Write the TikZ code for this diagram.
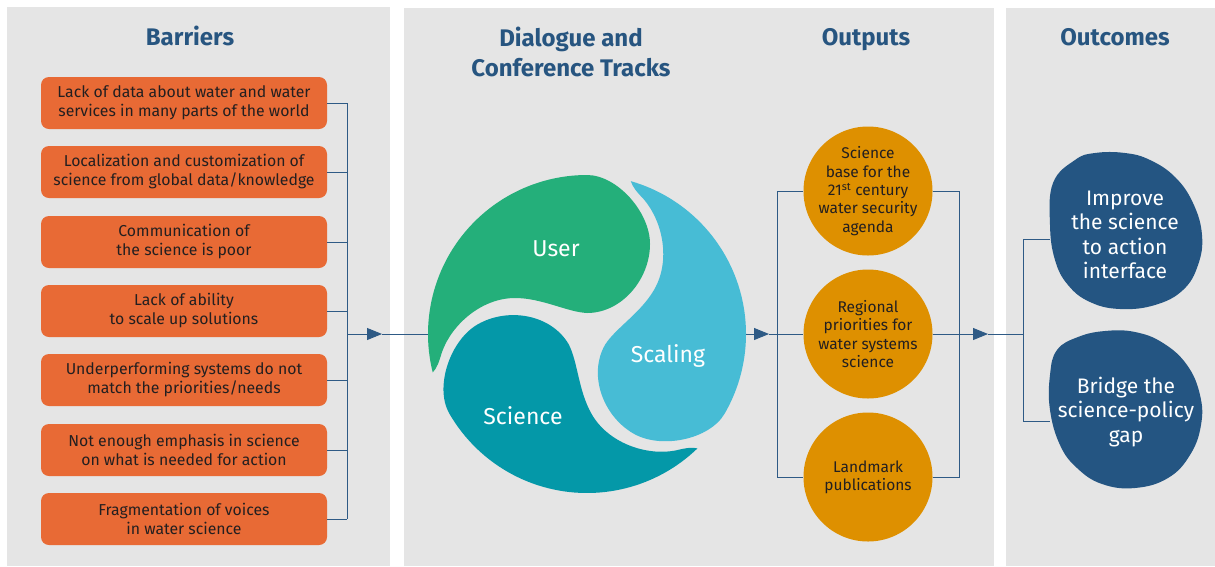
\documentclass[tikz,border=0pt]{standalone}
\usepackage{fontspec}
\setmainfont{Fira Sans}
\usetikzlibrary{arrows.meta}
\definecolor{panel}{HTML}{E5E5E5}
\definecolor{barorange}{HTML}{E86A35}
\definecolor{headblue}{HTML}{275580}
\definecolor{lineblue}{HTML}{2E5A85}
\definecolor{outgold}{HTML}{DE9000}
\definecolor{outcblue}{HTML}{245582}
\definecolor{cuser}{HTML}{24AF7A}
\definecolor{cscience}{HTML}{0498A8}
\definecolor{cscaling}{HTML}{47BCD5}
\definecolor{txtdark}{HTML}{231F20}
\tikzset{
  head/.style={text=headblue, font=\fontsize{24}{30}\selectfont\bfseries, align=center, inner sep=0},
  barbox/.style={fill=barorange, rounded corners=8pt, minimum width=286pt, minimum height=52pt,
    align=center, text=txtdark, font=\fontsize{15.8}{19}\selectfont, inner sep=0},
  outcirc/.style={circle, fill=outgold, minimum size=129pt, inner sep=-12pt, align=center,
    text=txtdark, font=\fontsize{15.5}{18.3}\selectfont},
  outctext/.style={text=white, align=center, font=\fontsize{21}{24.5}\selectfont, inner sep=0},
  tritext/.style={text=white, font=\fontsize{23}{26}\selectfont, inner sep=0},
  conn/.style={draw=lineblue, line width=0.9pt},
  tip/.style={-{Triangle[length=15pt,width=12pt]}},
  tomoe/.pic={\fill[pic actions] (194:159) arc[start angle=194, end angle=90, radius=159]
     .. controls (30,159) and (63,122) .. (63,90)
     .. controls (63,55) and (35,21) .. (0,21)
     .. controls (-20,22) and (-45,36) .. (-72,36)
     .. controls (-105,36) and (-135,10) .. (-145,-18)
     .. controls (-148,-28) and (-150,-34) .. cycle;}
}
\begin{document}
\begin{tikzpicture}[x=1pt,y=-1pt]
\useasboundingbox (0,0) rectangle (1215,566);
\fill[white] (0,0) rectangle (1215,566);
% panels
\fill[panel] (7,7) rectangle (390,566);
\fill[panel] (404,8) rectangle (994,566);
\fill[panel] (1006,8) rectangle (1215,566);
% headings
\node[head, anchor=base] (hbar) at (190,45) {Barriers};
\node[head] (hdia) at (571,52) {Dialogue and\\Conference Tracks};
\node[head, anchor=base] (hout) at (866,45) {Outputs};
\node[head, anchor=base] (hoc) at (1115,45) {Outcomes};
% barriers
\node[barbox] (b1) at (184,103) {Lack of data about water and water\\services in many parts of the world};
\node[barbox] (b2) at (184,172) {Localization and customization of\\science from global data/knowledge};
\node[barbox] (b3) at (184,242) {Communication of\\the science is poor};
\node[barbox] (b4) at (184,311) {Lack of ability\\to scale up solutions};
\node[barbox] (b5) at (184,380) {Underperforming systems do not\\match the priorities/needs};
\node[barbox] (b6) at (184,450) {Not enough emphasis in science\\on what is needed for action};
\node[barbox] (b7) at (184,519) {Fragmentation of voices\\in water science};
\coordinate (brM) at (347,334);
\coordinate (a1) at (382,334);
\foreach \k in {1,...,7} {\draw[conn] (b\k.east) -- (b\k.east -| brM);}
\draw[conn] (b1.east -| brM) -- (b7.east -| brM);
% triskelion
\node[circle, minimum size=318pt, inner sep=0] (tri) at (587,334) {};
\draw[conn, tip] (brM) -- (a1);
\draw[conn] (a1) -- (tri.west);
\begin{scope}[shift={(587,334)}, x=1pt, y=1pt]
\pic[fill=cuser] {tomoe};
\pic[fill=cscaling, rotate=-120] {tomoe};
\pic[fill=cscience, rotate=120] {tomoe};
\end{scope}
\node[tritext] (tuser) at (556,249) {User};
\node[tritext] (tscal) at (668,356) {Scaling};
\node[tritext] (tsci) at (523,416) {Science};
% outputs
\node[outcirc] (o1) at (868,191) {Science\\base for the\\21\textsuperscript{st} century\\water security\\agenda};
\node[outcirc] (o2) at (868,334) {Regional\\priorities for\\water systems\\science};
\node[outcirc] (o3) at (868,477) {Landmark\\publications};
\coordinate (oL) at (777,334);
\coordinate (oR) at (959,334);
\coordinate (a2) at (769,334);
\coordinate (a3) at (988,334);
\coordinate (cM) at (1023,334);
\draw[conn, tip] (tri.east) -- (a2);
\draw[conn] (a2) -- (o2.west);
\draw[conn] (o1.west) -- (o1.west -| oL) -- (o3.west -| oL) -- (o3.west);
\draw[conn] (o1.east) -- (o1.east -| oR) -- (o3.east -| oR) -- (o3.east);
\draw[conn] (o2.east) -- (oR);
\draw[conn, tip] (oR) -- (a3);
\draw[conn] (a3) -- (cM);
% outcomes
\coordinate (bl1) at (1050,239);
\coordinate (bl2) at (1050,421);
\draw[conn] (bl1) -- (bl1 -| cM) -- (bl2 -| cM) -- (bl2);
\fill[outcblue] plot[smooth cycle, tension=0.7] coordinates {(1053,183) (1075,160) (1095,153) (1125,153) (1150,160) (1175,177) (1193,203) (1202,235) (1198,265) (1183,290) (1155,305) (1120,309) (1090,302) (1068,285) (1055,260) (1050,225)};
\fill[outcblue] plot[smooth cycle, tension=0.7] coordinates {(1057,350) (1078,337) (1105,331) (1135,332) (1163,343) (1187,365) (1200,395) (1201,425) (1190,455) (1168,478) (1135,488) (1102,484) (1077,468) (1060,445) (1050,410) (1050,375)};
\node[outctext] (oc1) at (1125,235) {Improve\\the science\\to action\\interface};
\node[outctext] (oc2) at (1126,412) {Bridge the\\science-policy\\gap};
\end{tikzpicture}
\end{document}
